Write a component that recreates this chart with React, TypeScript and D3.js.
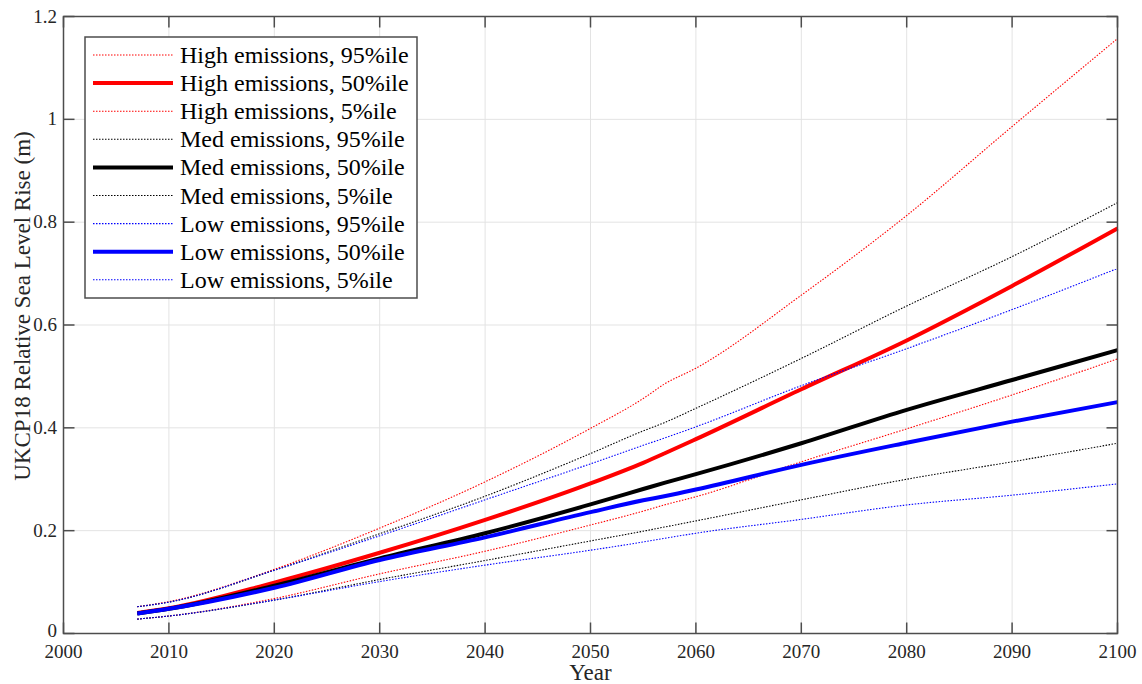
import React from "react";
import * as d3 from "d3";

const years = [2007, 2010, 2020, 2030, 2040, 2050, 2055, 2057, 2060, 2070, 2080, 2090, 2100];

const high95 = [0.052, 0.062, 0.125, 0.205, 0.295, 0.399, 0.457, 0.485, 0.516, 0.658, 0.813, 0.986, 1.157];
const high50 = [0.040, 0.049, 0.099, 0.157, 0.221, 0.292, 0.332, 0.350, 0.378, 0.475, 0.570, 0.676, 0.788];
const high5 = [0.028, 0.034, 0.068, 0.116, 0.160, 0.211, 0.238, 0.250, 0.266, 0.334, 0.398, 0.464, 0.534];
const med95 = [0.052, 0.061, 0.123, 0.194, 0.267, 0.350, 0.394, 0.410, 0.438, 0.535, 0.637, 0.733, 0.838];
const med50 = [0.039, 0.048, 0.093, 0.146, 0.195, 0.251, 0.281, 0.293, 0.310, 0.370, 0.435, 0.493, 0.551];
const med5 = [0.028, 0.034, 0.065, 0.105, 0.142, 0.180, 0.199, 0.207, 0.219, 0.260, 0.300, 0.334, 0.370];
const low95 = [0.052, 0.061, 0.123, 0.190, 0.260, 0.330, 0.366, 0.380, 0.402, 0.482, 0.554, 0.630, 0.710];
const low50 = [0.039, 0.048, 0.089, 0.143, 0.187, 0.236, 0.259, 0.267, 0.280, 0.328, 0.371, 0.412, 0.450];
const low5 = [0.028, 0.034, 0.065, 0.101, 0.133, 0.162, 0.178, 0.185, 0.195, 0.222, 0.250, 0.269, 0.291];

const seriesNames = [
  "High emissions, 95%ile",
  "High emissions, 50%ile",
  "High emissions, 5%ile",
  "Med emissions, 95%ile",
  "Med emissions, 50%ile",
  "Med emissions, 5%ile",
  "Low emissions, 95%ile",
  "Low emissions, 50%ile",
  "Low emissions, 5%ile",
];
const seriesValues = [high95, high50, high5, med95, med50, med5, low95, low50, low5];
const seriesColors = ["#ff0000", "#ff0000", "#ff0000", "#000000", "#000000", "#000000", "#0000ff", "#0000ff", "#0000ff"];
const seriesSolid = [false, true, false, false, true, false, false, true, false];

const xTicks = [2000, 2010, 2020, 2030, 2040, 2050, 2060, 2070, 2080, 2090, 2100];
const yTicks = [0, 0.2, 0.4, 0.6, 0.8, 1, 1.2];

const W = 1142;
const H = 684;
const left = 63.5;
const right = 1117.5;
const top = 16.5;
const bottom = 633.5;
const FONT = "Liberation Serif, Tinos, DejaVu Serif, serif";
const AX = "#4d4d4d";
const TXT = "#262626";

export default function App() {
  const x = d3.scaleLinear().domain([2000, 2100]).range([left, right]);
  const y = d3.scaleLinear().domain([0, 1.2]).range([bottom, top]);
  const line = d3
    .line<number>()
    .x((_, i) => x(years[i]))
    .y((d) => y(d))
    .curve(d3.curveMonotoneX);

  const legX = 85;
  const legY = 37;
  const legW = 332;
  const legH = 261;
  const rowY0 = 55;
  const rowStep = 28.1;

  return (
    <svg
      width={W}
      height={H}
      style={{ position: "absolute", left: 0, top: 0, background: "#fff", fontFamily: FONT }}
    >
      <rect x={0} y={0} width={W} height={H} fill="#fff" />
      {xTicks.slice(1, -1).map((t) => (
        <line key={"gx" + t} x1={x(t)} x2={x(t)} y1={top} y2={bottom} stroke="#e3e3e3" strokeWidth={1} />
      ))}
      {yTicks.slice(1, -1).map((t) => (
        <line key={"gy" + t} x1={left} x2={right} y1={y(t)} y2={y(t)} stroke="#e3e3e3" strokeWidth={1} />
      ))}
      {seriesValues.map((vals, i) => (
        <path
          key={"s" + i}
          d={line(vals) || ""}
          fill="none"
          stroke={seriesColors[i]}
          strokeWidth={seriesSolid[i] ? 4 : 1.1}
          strokeDasharray={seriesSolid[i] ? undefined : "1.5,1.5"}
          strokeLinejoin="round"
        />
      ))}
      {xTicks.map((t) => (
        <g key={"tx" + t}>
          <line x1={x(t)} x2={x(t)} y1={bottom} y2={bottom - 11} stroke={AX} strokeWidth={1.5} />
          <line x1={x(t)} x2={x(t)} y1={top} y2={top + 11} stroke={AX} strokeWidth={1.5} />
          <text x={x(t)} y={658} textAnchor="middle" fontSize={19} fill={TXT} style={{ fontFamily: FONT }}>
            {t}
          </text>
        </g>
      ))}
      {yTicks.map((t) => (
        <g key={"ty" + t}>
          <line x1={left} x2={left + 11} y1={y(t)} y2={y(t)} stroke={AX} strokeWidth={1.5} />
          <line x1={right} x2={right - 11} y1={y(t)} y2={y(t)} stroke={AX} strokeWidth={1.5} />
          <text x={57} y={y(t) + (t === 0 ? 3 : 6)} textAnchor="end" fontSize={19} fill={TXT} style={{ fontFamily: FONT }}>
            {t}
          </text>
        </g>
      ))}
      <rect x={left} y={top} width={right - left} height={bottom - top} fill="none" stroke={AX} strokeWidth={1.5} />
      <text x={(left + right) / 2} y={680} textAnchor="middle" fontSize={23} fill={TXT} style={{ fontFamily: FONT }}>
        Year
      </text>
      <text
        transform={`translate(30, ${(top + bottom) / 2 - 19}) rotate(-90)`}
        textAnchor="middle"
        fontSize={23}
        fill={TXT}
        style={{ fontFamily: FONT }}
      >
        UKCP18 Relative Sea Level Rise (m)
      </text>
      <rect x={legX} y={legY} width={legW} height={legH} fill="#fff" stroke={AX} strokeWidth={1.5} />
      {seriesNames.map((name, i) => {
        const ry = rowY0 + i * rowStep;
        return (
          <g key={"l" + i}>
            <line
              x1={93}
              x2={173}
              y1={ry}
              y2={ry}
              stroke={seriesColors[i]}
              strokeWidth={seriesSolid[i] ? 4 : 1.1}
              strokeDasharray={seriesSolid[i] ? undefined : "1.5,1.5"}
            />
            <text x={180} y={ry + 8} fontSize={24} fill="#000" style={{ fontFamily: FONT }}>
              {name}
            </text>
          </g>
        );
      })}
    </svg>
  );
}
